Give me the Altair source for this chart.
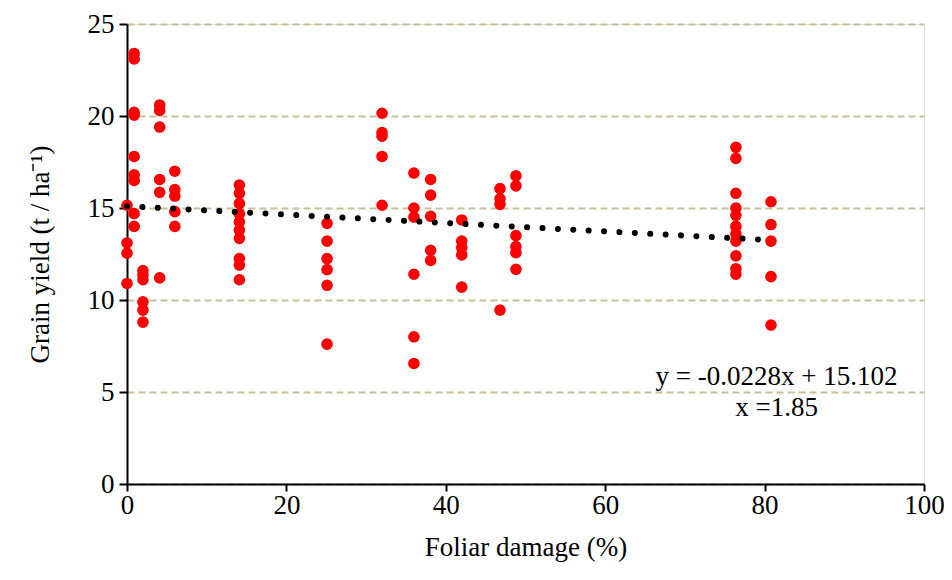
import altair as alt
import pandas as pd

# Foliar damage groups (x) and grain yields (y)
x_groups = [0.0, 0.9, 2.0, 4.1, 6.0, 14.1, 25.1, 32.0, 36.0, 38.1, 42.0, 46.8, 48.8, 76.4, 80.8]
y_groups = [
    [15.15, 13.1, 12.55, 10.9],
    [23.4, 23.1, 20.2, 20.05, 17.8, 16.8, 16.5, 14.7, 14.0],
    [11.6, 11.35, 11.1, 9.9, 9.45, 8.8],
    [20.6, 20.3, 19.4, 16.55, 15.85, 11.2],
    [17.0, 16.0, 15.65, 14.8, 14.0],
    [16.25, 15.8, 15.25, 14.7, 14.25, 13.8, 13.35, 12.25, 11.9, 11.1],
    [14.17, 13.2, 12.25, 11.65, 10.8, 7.6],
    [20.15, 19.1, 18.9, 17.8, 15.15],
    [16.9, 15.0, 14.5, 11.4, 8.0, 6.55],
    [16.55, 15.7, 14.55, 12.7, 12.15],
    [14.35, 13.2, 12.85, 12.45, 10.7],
    [16.05, 15.5, 15.2, 9.45],
    [16.75, 16.2, 13.5, 12.9, 12.57, 11.67],
    [18.3, 17.7, 15.8, 15.0, 14.6, 14.0, 13.6, 13.2, 12.4, 11.7, 11.4],
    [15.34, 14.1, 13.2, 11.27, 8.64],
]

# Linear trend line end points (y = -0.0228x + 15.102)
trend_x = [0.0, 81.0]
trend_y = [15.10, 13.25]

# Annotation
ann_text = ["y = -0.0228x + 15.102", "x =1.85"]
ann_x = [81.5, 81.5]
ann_y = [5.8, 4.15]

x_ticks = [0, 20, 40, 60, 80, 100]
y_ticks = [0, 5, 10, 15, 20, 25]

rows = []
for xv, ys in zip(x_groups, y_groups):
    for yv in ys:
        rows.append({"x": xv, "y": yv})
pts = pd.DataFrame(rows)
trend = pd.DataFrame({"x": trend_x, "y": trend_y})
ann = pd.DataFrame({"x": ann_x, "y": ann_y, "t": ann_text})

FONT = "Liberation Serif"
FS = 27

xs = alt.Scale(domain=[0, 100], nice=False, zero=False)
ys_ = alt.Scale(domain=[0, 25], nice=False, zero=False)

xaxis = alt.Axis(
    values=x_ticks, title="Foliar damage (%)", grid=False, labelFlush=False,
    domainColor="black", domainWidth=2, tickColor="black", tickWidth=2, tickSize=7,
    labelFont=FONT, labelFontSize=FS, labelColor="black", labelPadding=1,
    titleFont=FONT, titleFontSize=FS, titleFontWeight="normal", titleColor="black",
    titlePadding=16,
)
yaxis = alt.Axis(
    values=y_ticks, title="Grain yield (t / ha\u207b\u00b9)", grid=True, labelFlush=False,
    gridColor="#C8BF9C", gridDash=[7, 4], gridWidth=2,
    domainColor="black", domainWidth=2, tickColor="black", tickWidth=2, tickSize=8,
    labelFont=FONT, labelFontSize=FS, labelColor="black", labelPadding=5,
    titleFont=FONT, titleFontSize=FS, titleFontWeight="normal", titleColor="black",
    titlePadding=33,
)

points = alt.Chart(pts).mark_circle(size=135, color="#FF0000", opacity=1).encode(
    x=alt.X("x:Q", scale=xs, axis=xaxis),
    y=alt.Y("y:Q", scale=ys_, axis=yaxis),
)

line = alt.Chart(trend).mark_line(
    color="black", strokeWidth=6, strokeCap="round", strokeDash=[0.01, 15.4]
).encode(x=alt.X("x:Q", scale=xs), y=alt.Y("y:Q", scale=ys_))

text = alt.Chart(ann).mark_text(
    font=FONT, fontSize=FS, color="black", align="center", baseline="middle"
).encode(x=alt.X("x:Q", scale=xs), y=alt.Y("y:Q", scale=ys_), text="t:N")

chart = alt.layer(points, line, text).properties(
    width=797, height=460,
    autosize=alt.AutoSizeParams(type="none"),
    padding={"left": 119, "top": 16, "right": 20, "bottom": 80},
).configure_view(stroke=None).configure(background="white")

chart.save("out.html", embed_options={"renderer": "svg", "actions": False})
